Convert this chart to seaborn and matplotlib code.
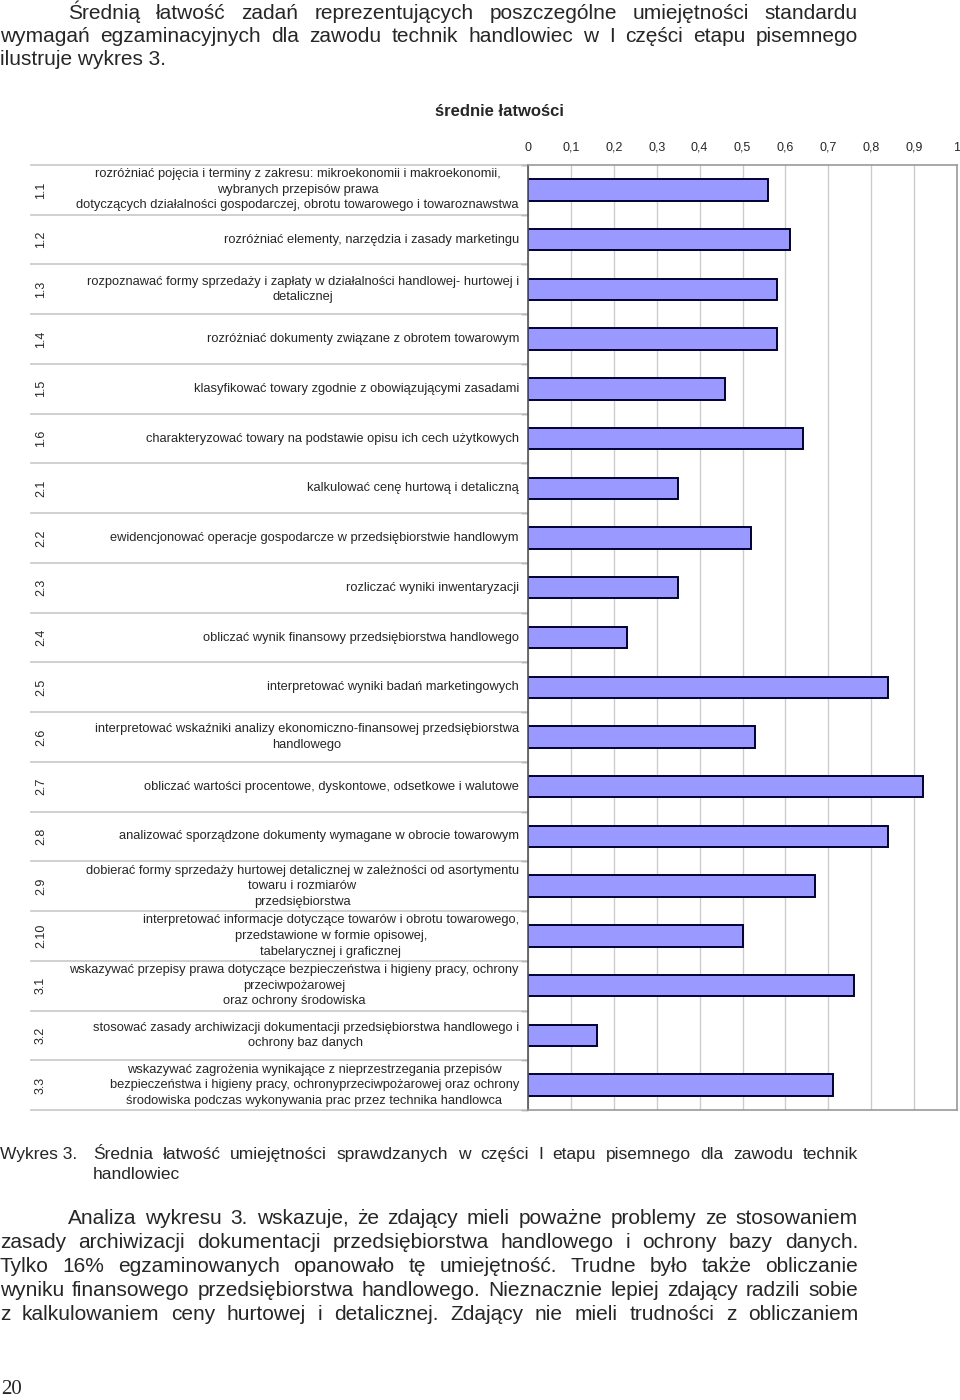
import numpy as np
import pandas as pd
import matplotlib
matplotlib.use('Agg')
import matplotlib.pyplot as plt
import seaborn as sns

# Data
codes = ['1.1', '1.2', '1.3', '1.4', '1.5', '1.6',
         '2.1', '2.2', '2.3', '2.4', '2.5', '2.6', '2.7', '2.8', '2.9', '2.10',
         '3.1', '3.2', '3.3']

skills = [
    'rozróżniać pojęcia i terminy z zakresu: mikroekonomii i makroekonomii,\n'
    'wybranych przepisów prawa\n'
    'dotyczących działalności gospodarczej, obrotu towarowego i towaroznawstwa',
    'rozróżniać elementy, narzędzia i zasady marketingu',
    'rozpoznawać formy sprzedaży i zapłaty w działalności handlowej- hurtowej i\n'
    'detalicznej',
    'rozróżniać dokumenty związane z obrotem towarowym',
    'klasyfikować towary zgodnie z obowiązującymi zasadami',
    'charakteryzować towary na podstawie opisu ich cech użytkowych',
    'kalkulować cenę hurtową i detaliczną',
    'ewidencjonować operacje gospodarcze w przedsiębiorstwie handlowym',
    'rozliczać wyniki inwentaryzacji',
    'obliczać wynik finansowy przedsiębiorstwa handlowego',
    'interpretować wyniki badań marketingowych',
    'interpretować wskaźniki analizy ekonomiczno-finansowej przedsiębiorstwa\n'
    'handlowego',
    'obliczać wartości procentowe, dyskontowe, odsetkowe i walutowe',
    'analizować sporządzone dokumenty wymagane w obrocie towarowym',
    'dobierać formy sprzedaży hurtowej detalicznej w zależności od asortymentu\n'
    'towaru i rozmiarów\n'
    'przedsiębiorstwa',
    'interpretować informacje dotyczące towarów i obrotu towarowego,\n'
    'przedstawione w formie opisowej,\n'
    'tabelarycznej i graficznej',
    'wskazywać przepisy prawa dotyczące bezpieczeństwa i higieny pracy, ochrony\n'
    'przeciwpożarowej\n'
    'oraz ochrony środowiska',
    'stosować zasady archiwizacji dokumentacji przedsiębiorstwa handlowego i\n'
    'ochrony baz danych',
    'wskazywać zagrożenia wynikające z nieprzestrzegania przepisów\n'
    'bezpieczeństwa i higieny pracy, ochronyprzeciwpożarowej oraz ochrony\n'
    'środowiska podczas wykonywania prac przez technika handlowca',
]

ease = [0.56, 0.61, 0.58, 0.58, 0.46, 0.64,
        0.35, 0.52, 0.35, 0.23, 0.84, 0.53, 0.92, 0.84, 0.67, 0.50,
        0.76, 0.16, 0.71]

x_ticks = [0, 0.1, 0.2, 0.3, 0.4, 0.5, 0.6, 0.7, 0.8, 0.9, 1.0]
x_tick_labels = ['0', '0,1', '0,2', '0,3', '0,4', '0,5', '0,6', '0,7', '0,8', '0,9', '1']

chart_title = 'średnie łatwości'

intro_lines = [
    'Średnią łatwość zadań reprezentujących poszczególne umiejętności standardu',
    'wymagań egzaminacyjnych dla zawodu technik handlowiec w I części etapu pisemnego',
    'ilustruje wykres 3.',
]
caption_head = 'Wykres 3.'
caption_lines = [
    'Średnia łatwość umiejętności sprawdzanych w części I etapu pisemnego dla zawodu technik',
    'handlowiec',
]
analysis_lines = [
    'Analiza wykresu 3. wskazuje, że zdający mieli poważne problemy ze stosowaniem',
    'zasady archiwizacji dokumentacji przedsiębiorstwa handlowego i ochrony bazy danych.',
    'Tylko 16% egzaminowanych opanowało tę umiejętność. Trudne było także obliczanie',
    'wyniku finansowego przedsiębiorstwa handlowego. Nieznacznie lepiej zdający radzili sobie',
    'z kalkulowaniem ceny hurtowej i detalicznej. Zdający nie mieli trudności z obliczaniem',
]
page_number = '20'

W, H = 960, 1400
sns.set_style('white')
plt.rcParams['font.family'] = ['Liberation Sans', 'DejaVu Sans']
body_font = ['Liberation Sans Narrow', 'Liberation Sans', 'DejaVu Sans']

fig = plt.figure(figsize=(W / 100, H / 100), dpi=100)

# plot area in pixels
px_left, px_right, px_top, px_bottom = 528, 957, 165, 1110
ax = fig.add_axes([px_left / W, 1 - px_bottom / H,
                   (px_right - px_left) / W, (px_bottom - px_top) / H])

df = pd.DataFrame({'code': codes, 'ease': ease})
sns.barplot(data=df, x='ease', y='code', orient='h', color='#9999ff',
            saturation=1, edgecolor='#000033', linewidth=1.4, width=0.43, ax=ax)

n = len(codes)
ax.set_xlim(0, 1)
ax.set_ylim(n - 0.5, -0.5)
ax.set_xlabel('')
ax.set_ylabel('')

ax.xaxis.tick_top()
ax.set_xticks(x_ticks)
ax.set_xticklabels(x_tick_labels)
ax.tick_params(axis='x', length=0, pad=8, labelsize=9)

bounds = np.arange(n + 1) - 0.5
ax.set_yticks(bounds)
ax.set_yticklabels([])
ax.tick_params(axis='y', length=5, width=1, color='#666666', direction='out', left=True)

ax.grid(axis='x', color='#cccccc', lw=1)
ax.grid(axis='y', visible=False)
ax.set_axisbelow(True)
for side in ['top', 'right', 'bottom']:
    ax.spines[side].set_color('#999999')
ax.spines['left'].set_color('#555555')
for sp in ax.spines.values():
    sp.set_linewidth(1.2)

# row table on the left
span = px_right - px_left
trans = ax.get_yaxis_transform()
ax.hlines(bounds, (30 - px_left) / span, 0, transform=trans,
          colors='#c8c8c8', lw=1.2, clip_on=False)
for i, (code, skill) in enumerate(zip(codes, skills)):
    ax.text((519 - px_left) / span, i, skill, transform=trans, ha='right',
            va='center', multialignment='center', fontsize=9.3, linespacing=1.4)
    ax.text((41 - px_left) / span, i, code, transform=trans, rotation=90,
            ha='center', va='center', fontsize=9)

fig.text(499 / W, 1 - 112 / H, chart_title, ha='center', va='center',
         fontsize=12, fontweight='bold')

renderer = fig.canvas.get_renderer()


def put_line(text, x0, x1, base, size, justify=True):
    if not justify:
        fig.text(x0 / W, 1 - base / H, text, fontsize=size, va='baseline',
                 ha='left', family=body_font)
        return
    words = text.split(' ')
    objs = [fig.text(0, 1 - base / H, w, fontsize=size, va='baseline',
                     ha='left', family=body_font) for w in words]
    widths = [o.get_window_extent(renderer).width for o in objs]
    gap = (x1 - x0 - sum(widths)) / max(len(words) - 1, 1)
    x = x0
    for o, w in zip(objs, widths):
        o.set_x(x / W)
        x += w + gap


right_edge = 858
put_line(intro_lines[0], 68, right_edge, 19, 15)
put_line(intro_lines[1], 0, right_edge, 42, 15)
put_line(intro_lines[2], 0, right_edge, 65, 15, justify=False)

put_line(caption_head, 0, right_edge, 1159, 12.5, justify=False)
put_line(caption_lines[0], 93, right_edge, 1159, 12.5)
put_line(caption_lines[1], 93, right_edge, 1179, 12.5, justify=False)

for k, line in enumerate(analysis_lines):
    put_line(line, 68 if k == 0 else 0, right_edge, 1224 + 24 * k, 15)

fig.text(1 / W, 1 - 1394 / H, page_number, fontsize=15, va='baseline',
         ha='left', family=['Liberation Serif', 'DejaVu Serif'])

fig.savefig('out.png', dpi=100)
